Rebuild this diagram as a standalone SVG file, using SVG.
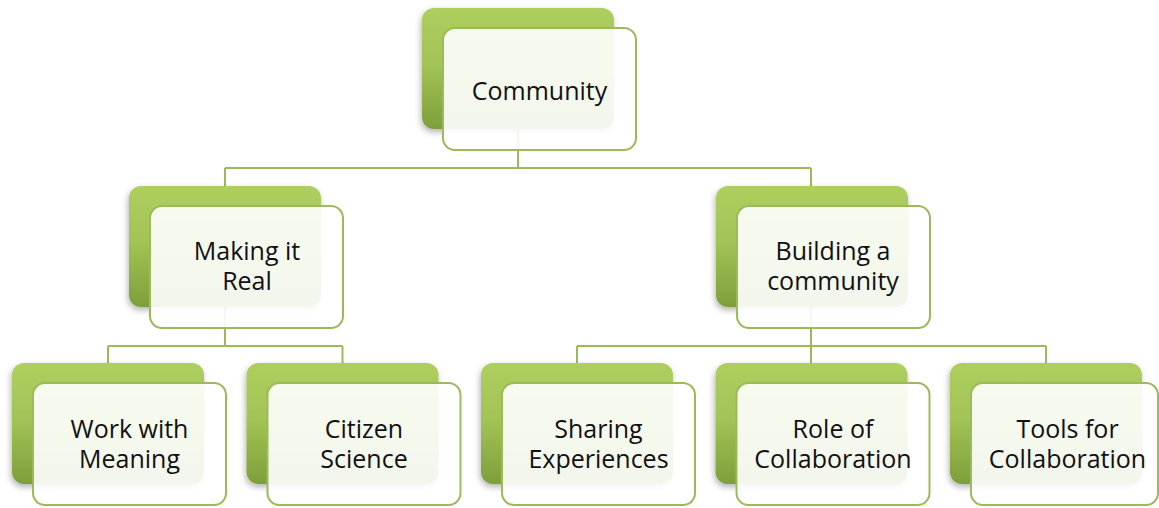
<svg xmlns="http://www.w3.org/2000/svg" width="1159" height="508" viewBox="0 0 1159 508">
<defs>
<linearGradient id="g" x1="0" y1="0" x2="0" y2="1">
<stop offset="0" stop-color="#AECE5E"/>
<stop offset="0.45" stop-color="#A3C456"/>
<stop offset="1" stop-color="#7E9E3A"/>
</linearGradient>
<filter id="sh" x="-10%" y="-10%" width="125%" height="130%">
<feDropShadow dx="-1" dy="3" stdDeviation="3" flood-color="#000" flood-opacity="0.3"/>
</filter>
</defs>
<style>
.back{fill:url(#g);filter:url(#sh)}
.front{fill:#fff;fill-opacity:0.9;stroke:#9BBB59;stroke-width:2}
.lbl{font-family:"Open Sans","Noto Sans",sans-serif;font-size:25px;fill:#111;text-anchor:middle}
.con{fill:none;stroke:#9BBB59;stroke-width:2}
</style>
<rect width="1159" height="508" fill="#fff"/>
<g id="connectors" class="con">
<path d="M518 129 V168 M225 168 H811 M225 168 V186 M811 168 V186"/>
<path d="M225 307 V346 M108 346 H342.5 M108 346 V363 M342.5 346 V363"/>
<path d="M811 307 V346 M577 346 H1046 M577 346 V363 M811 346 V363 M1046 346 V363"/>
</g>
<g id="n-community">
<rect class="back" x="422" y="8" width="192" height="121" rx="12"/>
<rect class="front" x="443" y="28" width="193" height="122" rx="12"/>
<text class="lbl" x="539.5" y="100">Community</text>
</g>
<g id="n-making">
<rect class="back" x="129" y="186" width="192" height="121" rx="12"/>
<rect class="front" x="150" y="206" width="193" height="122" rx="12"/>
<text class="lbl" x="247" y="260">Making it</text>
<text class="lbl" x="247" y="290">Real</text>
</g>
<g id="n-building">
<rect class="back" x="716" y="186" width="192" height="121" rx="12"/>
<rect class="front" x="737" y="206" width="193" height="122" rx="12"/>
<text class="lbl" x="833" y="260">Building a</text>
<text class="lbl" x="833" y="290">community</text>
</g>
<g id="n-work">
<rect class="back" x="12" y="363" width="192" height="121" rx="12"/>
<rect class="front" x="33" y="383" width="193" height="122" rx="12"/>
<text class="lbl" x="129.5" y="438">Work with</text>
<text class="lbl" x="129.5" y="468">Meaning</text>
</g>
<g id="n-citizen">
<rect class="back" x="246.5" y="363" width="192" height="121" rx="12"/>
<rect class="front" x="267.5" y="383" width="193" height="122" rx="12"/>
<text class="lbl" x="364" y="438">Citizen</text>
<text class="lbl" x="364" y="468">Science</text>
</g>
<g id="n-sharing">
<rect class="back" x="481" y="363" width="192" height="121" rx="12"/>
<rect class="front" x="502" y="383" width="193" height="122" rx="12"/>
<text class="lbl" x="598.5" y="438">Sharing</text>
<text class="lbl" x="598.5" y="468">Experiences</text>
</g>
<g id="n-role">
<rect class="back" x="715.5" y="363" width="192" height="121" rx="12"/>
<rect class="front" x="736.5" y="383" width="193" height="122" rx="12"/>
<text class="lbl" x="833" y="438">Role of</text>
<text class="lbl" x="833" y="468">Collaboration</text>
</g>
<g id="n-tools">
<rect class="back" x="950" y="363" width="192" height="121" rx="12"/>
<rect class="front" x="971" y="383" width="187" height="122" rx="12"/>
<text class="lbl" x="1067.5" y="438">Tools for</text>
<text class="lbl" x="1067.5" y="468">Collaboration</text>
</g>
</svg>
